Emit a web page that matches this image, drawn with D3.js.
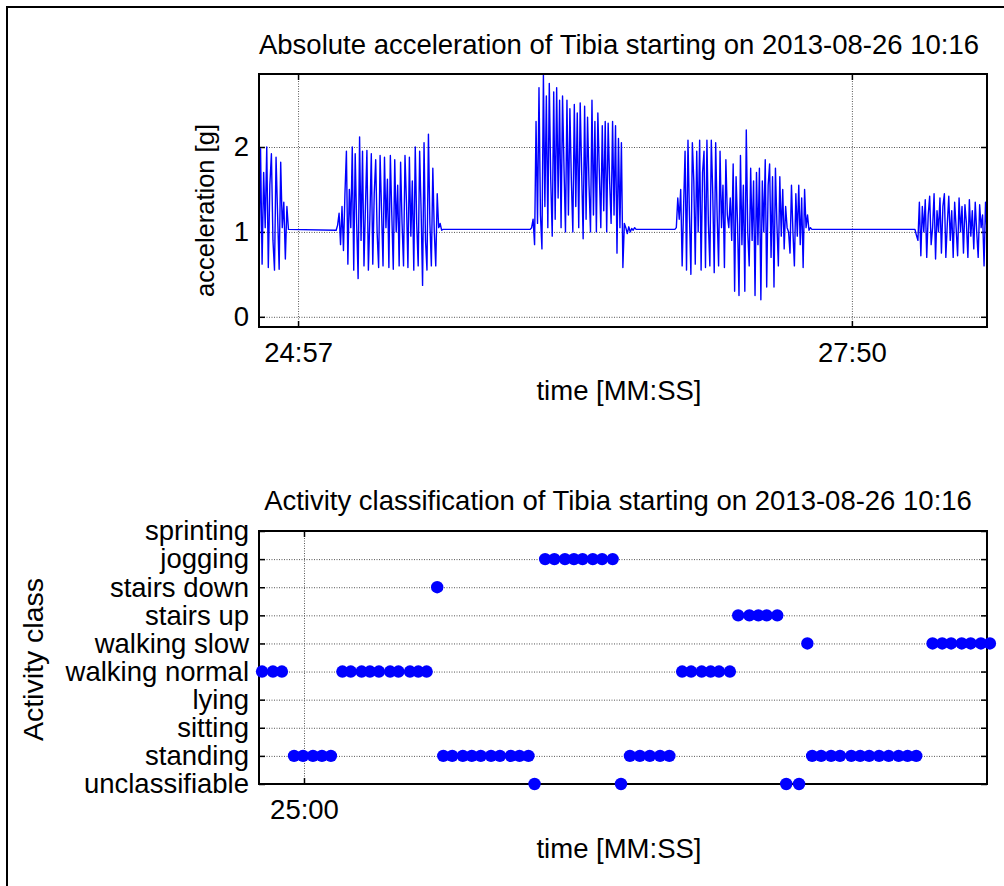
<!DOCTYPE html>
<html>
<head>
<meta charset="utf-8">
<script src="https://cdn.jsdelivr.net/npm/d3@7"></script>
<style>
body { margin:0; background:#fff; }
text { font-family: "Liberation Sans", Arial, sans-serif; fill:#000; }
</style>
</head>
<body>
<svg></svg>
<script>

var screen = {width:1004,height:886}
var topBox = {left:259,top:74,width:728,height:253}
var botBox = {left:259,top:531,width:728,height:253}

// acceleration bursts, [start, end] in seconds (MM*60+SS), values in g
var burstTimes = [[1484.8,1494.0],[1508.9,1542.3],[1569.5,1602.6],[1614.7,1657.5],[1689.7,1712.2]]

var burst1 = [0.55,1.98,0.62,1.7,1.05,2.0,0.58,1.55,1.92,0.9,0.55,1.88,1.2,0.56,1.82,1.05,1.35,0.68,1.3,1.03]

var burst2 = [1.02,1.08,1.22,0.85,1.3,0.78,1.45,1.95,0.62,1.5,1.05,2.0,0.55,1.92,1.1,0.45,2.12,0.9,1.95,0.6,
              1.3,1.96,0.55,1.15,1.92,0.62,1.45,1.85,0.98,0.58,1.9,1.25,0.6,1.88,1.05,1.62,0.58,1.9,1.2,0.56,
              1.85,1.0,1.55,0.6,1.82,1.1,0.6,1.9,1.35,0.58,1.88,0.95,1.6,0.55,2.0,1.1,0.6,1.95,1.25,0.37,
              2.05,0.9,0.55,2.15,1.1,0.6,1.75,1.0,0.6,1.45,1.05,1.1,1.02,1.03]

var burst3 = [1.03,1.05,1.15,0.85,2.3,1.1,2.7,1.2,0.8,2.85,1.3,2.6,1.05,2.75,1.6,0.95,2.65,1.15,2.7,1.4,
              2.55,1.05,2.6,1.75,1.0,2.55,1.2,2.45,1.6,1.0,2.5,1.3,2.4,1.05,2.52,1.7,0.92,2.48,1.15,2.35,
              1.55,1.0,2.55,1.2,2.3,1.0,2.4,1.7,1.05,2.25,1.25,2.3,1.0,2.28,1.6,1.1,2.3,1.2,2.25,0.75,
              2.1,1.05,2.05,0.58,1.1,1.05,0.98,1.06,1.0,1.04,1.02,1.05,1.03]

var burst4 = [1.03,1.05,1.4,1.15,1.5,0.6,1.3,1.95,0.55,2.08,1.2,0.5,2.05,1.6,0.62,1.95,1.0,2.08,0.55,1.7,
              1.95,0.58,2.08,1.1,0.6,2.08,1.45,0.52,2.05,1.2,0.6,1.95,1.05,1.55,0.58,1.85,1.2,1.05,1.4,0.9,
              1.8,0.3,1.65,1.1,0.25,1.9,0.85,1.55,0.3,2.2,1.0,0.6,1.75,0.9,1.6,0.25,1.7,0.85,1.75,0.2,
              1.6,1.0,1.85,0.35,1.55,1.8,0.7,1.65,0.35,1.75,1.1,0.6,1.65,0.95,1.5,0.8,1.3,1.05,1.0,0.75,
              1.55,1.0,0.6,1.45,0.95,1.55,0.85,1.4,0.58,1.5,1.05,1.2,1.02,1.05,1.03]

var burst5 = [1.03,0.96,0.9,1.35,0.72,1.3,1.0,1.38,0.7,1.2,1.42,0.85,1.05,1.45,0.68,1.25,1.0,1.4,0.75,1.3,
              1.45,0.7,1.1,1.42,0.9,1.25,0.7,1.35,1.05,0.72,1.4,1.0,1.3,0.75,1.32,1.1,0.7,1.38,0.95,1.25,
              0.8,1.35,1.0,0.7,1.32,1.05,1.2,0.6,1.35,1.0]

var accTicks = [0,1,2]
var accTimeTicks = [1497,1670]

// activity classification
var classNames = ["unclassifiable","standing","sitting","lying","walking normal","walking slow","stairs up","stairs down","jogging","sprinting"]

var dotTimes = [1486.9,1490.3,1493.1,
                1496.9,1499.7,1502.8,1505.6,1508.4,
                1512.0,1514.6,1518.0,1520.6,1523.4,1526.9,1529.5,1533.1,1535.7,1538.3,
                1541.6,
                1543.5,1546.3,1549.6,1552.4,1555.2,1558.4,1561.2,1564.6,1567.3,1570.1,
                1572.0,
                1575.3,1578.2,1581.5,1584.3,1587.0,1590.2,1593.1,1596.4,
                1599.0,
                1601.8,1604.9,1608.0,1611.2,1614.1,
                1618.1,1620.9,1624.2,1627.0,1629.6,1633.0,
                1635.6,1639.1,1641.9,1644.5,1647.8,
                1650.6,1654.6,
                1657.2,
                1658.7,1661.5,1664.6,1667.4,1670.9,1673.7,1676.5,1679.6,1682.6,1685.7,1688.5,1691.2,
                1696.3,1699.3,1702.1,1705.4,1708.2,1711.4,1714.2]

var dotClass = ["walking normal","walking normal","walking normal",
                "standing","standing","standing","standing","standing",
                "walking normal","walking normal","walking normal","walking normal","walking normal","walking normal","walking normal","walking normal","walking normal","walking normal",
                "stairs down",
                "standing","standing","standing","standing","standing","standing","standing","standing","standing","standing",
                "unclassifiable",
                "jogging","jogging","jogging","jogging","jogging","jogging","jogging","jogging",
                "unclassifiable",
                "standing","standing","standing","standing","standing",
                "walking normal","walking normal","walking normal","walking normal","walking normal","walking normal",
                "stairs up","stairs up","stairs up","stairs up","stairs up",
                "unclassifiable","unclassifiable",
                "walking slow",
                "standing","standing","standing","standing","standing","standing","standing","standing","standing","standing","standing","standing",
                "walking slow","walking slow","walking slow","walking slow","walking slow","walking slow","walking slow"]

var classTimeTicks = [1500]

var fontSize = 27.5

var mmss = function(t)
{
    var m = Math.floor(t/60)
    var s = Math.round(t - m*60)
    return m + ":" + (s<10 ? "0" : "") + s
}

var makeSignal = function()
{
    var bursts = [burst1,burst2,burst3,burst4,burst5]
    var points = []
    bursts.forEach(function(b,k)
    {
        var t0 = burstTimes[k][0]
        var step = (burstTimes[k][1]-t0)/(b.length-1)
        b.forEach(function(v,i)
        {
            points.push({t:t0+i*step, v:v})
        })
    })
    return points
}

var drawFrame = function(svg, box, xScale, yScale, xTicks, yTicks, yFormat)
{
    var g = svg.append("g")
    var w = box.width, h = box.height

    // grid
    g.append("g")
     .attr("transform","translate(0,"+(box.top+h)+")")
     .call(d3.axisBottom(xScale).tickValues(xTicks).tickSize(-h).tickFormat(""))
     .call(function(a){ a.select(".domain").remove() })
     .selectAll("line").attr("stroke","#555").attr("stroke-dasharray","1,1.5")
    g.append("g")
     .attr("transform","translate("+box.left+",0)")
     .call(d3.axisLeft(yScale).tickValues(yTicks).tickSize(-w).tickFormat(""))
     .call(function(a){ a.select(".domain").remove() })
     .selectAll("line").attr("stroke","#555").attr("stroke-dasharray","1,1.5")

    // inward ticks on all four sides
    var tk = 6
    g.append("g").attr("class","ticks").attr("transform","translate(0,"+(box.top+h)+")")
     .call(d3.axisBottom(xScale).tickValues(xTicks).tickSize(-tk).tickFormat(""))
    g.append("g").attr("class","ticks").attr("transform","translate(0,"+box.top+")")
     .call(d3.axisTop(xScale).tickValues(xTicks).tickSize(-tk).tickFormat(""))
    g.append("g").attr("class","ticks").attr("transform","translate("+box.left+",0)")
     .call(d3.axisLeft(yScale).tickValues(yTicks).tickSize(-tk).tickFormat(""))
    g.append("g").attr("class","ticks").attr("transform","translate("+(box.left+w)+",0)")
     .call(d3.axisRight(yScale).tickValues(yTicks).tickSize(-tk).tickFormat(""))
    g.selectAll(".ticks .domain").remove()
    g.selectAll(".ticks line").attr("stroke","#000").attr("stroke-width",1.5)

    // tick labels
    g.append("g").attr("transform","translate(0,"+(box.top+h)+")")
     .call(d3.axisBottom(xScale).tickValues(xTicks).tickSize(0).tickPadding(15).tickFormat(mmss))
     .call(function(a){ a.select(".domain").remove() })
     .selectAll("text").attr("font-size",fontSize).attr("font-family",null)
    g.append("g").attr("transform","translate("+box.left+",0)")
     .call(d3.axisLeft(yScale).tickValues(yTicks).tickSize(0).tickPadding(10).tickFormat(yFormat))
     .call(function(a){ a.select(".domain").remove() })
     .selectAll("text").attr("font-size",fontSize).attr("font-family",null)

    return g
}

var drawBox = function(svg, box)
{
    svg.append("rect")
       .attr("x",box.left).attr("y",box.top)
       .attr("width",box.width).attr("height",box.height)
       .attr("fill","none").attr("stroke","#000").attr("stroke-width",2)
}

var setup = function()
{
    var svg = d3.select("svg")
        .attr("width",screen.width)
        .attr("height",screen.height)

    svg.append("rect")
       .attr("x",7).attr("y",7).attr("width",1100).attr("height",1000)
       .attr("fill","#fff").attr("stroke","#000").attr("stroke-width",2)

    // ---- acceleration plot ----
    var xTop = d3.scaleLinear().domain([1484.8,1712.2]).range([topBox.left,topBox.left+topBox.width])
    var yTop = d3.scaleLinear().domain([-0.12,2.86]).range([topBox.top+topBox.height,topBox.top])

    drawFrame(svg, topBox, xTop, yTop, accTimeTicks, accTicks, d3.format("d"))

    svg.append("clipPath").attr("id","topClip")
       .append("rect")
       .attr("x",topBox.left).attr("y",topBox.top)
       .attr("width",topBox.width).attr("height",topBox.height)

    var line = d3.line()
        .x(function(d){ return xTop(d.t) })
        .y(function(d){ return yTop(d.v) })

    svg.append("path")
       .datum(makeSignal())
       .attr("clip-path","url(#topClip)")
       .attr("d",line)
       .attr("fill","none")
       .attr("stroke","#0000ff")
       .attr("stroke-width",1.4)
       .attr("stroke-linejoin","round")

    drawBox(svg, topBox)

    svg.append("text")
       .attr("x",topBox.left+topBox.width/2-4).attr("y",44).attr("dy","0.35em")
       .attr("text-anchor","middle").attr("font-size",fontSize)
       .text("Absolute acceleration of Tibia starting on 2013-08-26 10:16")
    svg.append("text")
       .attr("x",topBox.left+topBox.width/2-4).attr("y",390).attr("dy","0.35em")
       .attr("text-anchor","middle").attr("font-size",fontSize)
       .text("time [MM:SS]")
    svg.append("text")
       .attr("transform","translate(205,"+(topBox.top+topBox.height/2+10)+") rotate(-90)")
       .attr("dy","0.35em")
       .attr("text-anchor","middle").attr("font-size",25.5)
       .text("acceleration [g]")

    // ---- activity plot ----
    var xBot = d3.scaleLinear().domain([1485.95,1713.3]).range([botBox.left,botBox.left+botBox.width])
    var yBot = d3.scalePoint().domain(classNames).range([botBox.top+botBox.height,botBox.top])

    drawFrame(svg, botBox, xBot, yBot, classTimeTicks, classNames, function(d){ return d })
    drawBox(svg, botBox)

    svg.append("g")
       .selectAll("circle")
       .data(dotTimes)
       .enter()
       .append("circle")
       .attr("cx",function(d){ return xBot(d) })
       .attr("cy",function(d,i){ return yBot(dotClass[i]) })
       .attr("r",6.2)
       .attr("fill","#0000ff")

    svg.append("text")
       .attr("x",botBox.left+botBox.width/2-5).attr("y",500).attr("dy","0.35em")
       .attr("text-anchor","middle").attr("font-size",fontSize)
       .text("Activity classification of Tibia starting on 2013-08-26 10:16")
    svg.append("text")
       .attr("x",botBox.left+botBox.width/2-4).attr("y",848).attr("dy","0.35em")
       .attr("text-anchor","middle").attr("font-size",fontSize)
       .text("time [MM:SS]")
    svg.append("text")
       .attr("transform","translate(33,"+(botBox.top+botBox.height/2+2)+") rotate(-90)")
       .attr("dy","0.35em")
       .attr("text-anchor","middle").attr("font-size",28.5)
       .text("Activity class")
}

setup()

</script>
</body>
</html>
